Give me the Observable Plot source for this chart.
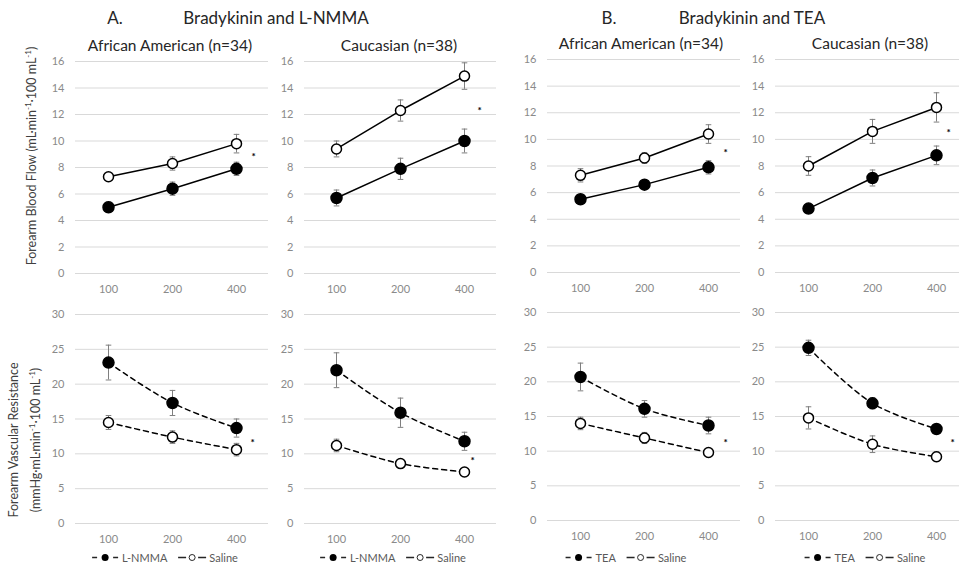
<!DOCTYPE html>
<html>
<head>
<meta charset="utf-8">
<script src="https://cdn.jsdelivr.net/npm/d3@7"></script>
<script src="https://cdn.jsdelivr.net/npm/@observablehq/plot@0.6"></script>
<style>
  html, body { margin: 0; padding: 0; background: #fff; }
  #root { position: relative; width: 959px; height: 568px; overflow: hidden; font-family: Lato, "Open Sans", sans-serif; }
  .t { position: absolute; transform: translate(-50%, -50%); white-space: nowrap; color: #262626; }
  .h { font-size: 17px; }
  .sub { font-size: 15.5px; color: #262626; }
  .ytitle { position: absolute; white-space: nowrap; color: #404040; font-size: 12.5px; transform: translate(-50%, -50%) rotate(-90deg); text-align: center; line-height: 18px; }
  .legend { position: absolute; transform: translate(-50%, -50%); display: flex; align-items: center; gap: 10px; font-size: 11px; color: #595959; white-space: nowrap; }
  .legend span.item { display: flex; align-items: center; gap: 2px; }
  .panel { position: absolute; }
</style>
</head>
<body>
<div id="root"></div>
<script>
// ---------- data ----------
const doses = ["100", "200", "400"];
const flowTicks = [0, 2, 4, 6, 8, 10, 12, 14, 16];
const resTicks = [0, 5, 10, 15, 20, 25, 30];

// Forearm blood flow (top row)
const aaLnmmaFlow = [5.0, 6.4, 7.9];      const aaLnmmaFlowErr = [0.4, 0.5, 0.5];
const aaSalineFlowA = [7.3, 8.3, 9.8];    const aaSalineFlowAErr = [0.2, 0.5, 0.7];
const caLnmmaFlow = [5.7, 7.9, 10.0];     const caLnmmaFlowErr = [0.6, 0.8, 0.9];
const caSalineFlowA = [9.4, 12.3, 14.9];  const caSalineFlowAErr = [0.6, 0.8, 1.0];
const aaTeaFlow = [5.5, 6.6, 7.9];        const aaTeaFlowErr = [0.2, 0.2, 0.5];
const aaSalineFlowB = [7.3, 8.6, 10.4];   const aaSalineFlowBErr = [0.5, 0.4, 0.7];
const caTeaFlow = [4.8, 7.1, 8.8];        const caTeaFlowErr = [0.2, 0.6, 0.7];
const caSalineFlowB = [8.0, 10.6, 12.4];  const caSalineFlowBErr = [0.7, 0.9, 1.1];

// Forearm vascular resistance (bottom row)
const aaLnmmaRes = [23.1, 17.3, 13.7];    const aaLnmmaResErr = [2.5, 1.8, 1.3];
const aaSalineResA = [14.5, 12.4, 10.6];  const aaSalineResAErr = [1.0, 0.9, 0.9];
const caLnmmaRes = [22.0, 15.9, 11.8];    const caLnmmaResErr = [2.5, 2.1, 1.3];
const caSalineResA = [11.2, 8.6, 7.4];    const caSalineResAErr = [0.9, 0.4, 0.4];
const aaTeaRes = [20.7, 16.1, 13.7];      const aaTeaResErr = [2.0, 1.2, 1.2];
const aaSalineResB = [14.0, 11.9, 9.8];   const aaSalineResBErr = [0.9, 0.8, 0.6];
const caTeaRes = [24.9, 16.9, 13.2];      const caTeaResErr = [1.1, 0.8, 0.6];
const caSalineResB = [14.8, 11.0, 9.2];   const caSalineResBErr = [1.6, 1.2, 0.7];

// significance marker positions (y value beside the 400 dose)
const starFlow = [9.0, 12.5, 9.25, 10.7];
const starRes = [12.0, 9.5, 11.7, 11.7];

// ---------- layout ----------
const root = document.getElementById("root");
const capSymbol = { draw(ctx, size) { const r = Math.sqrt(size / Math.PI); ctx.moveTo(-r, 0); ctx.lineTo(r, 0); } };

function addText(cls, html, x, y, extra) {
  const d = document.createElement("div");
  d.className = cls; d.innerHTML = html;
  d.style.left = x + "px"; d.style.top = y + "px";
  if (extra) Object.assign(d.style, extra);
  root.appendChild(d);
}

function makePanel(cfg) {
  const data = [];
  doses.forEach((d, i) => {
    data.push({dose: d, s: "drug", v: cfg.drug[i], e: cfg.drugErr[i]});
    data.push({dose: d, s: "saline", v: cfg.sal[i], e: cfg.salErr[i]});
  });
  const drug = data.filter(d => d.s === "drug");
  const sal = data.filter(d => d.s === "saline");
  const mL = 40, mB = 30, top = cfg.top;
  const width = cfg.gx1 - cfg.gx0 + mL;
  const height = cfg.y0px - top + mB;
  const lineOpts = {x: "dose", y: "v", stroke: "black", strokeWidth: 1.5, curve: cfg.curve, strokeDasharray: cfg.dash};
  const svg = Plot.plot({
    width, height,
    marginLeft: mL, marginRight: 0, marginTop: cfg.y1px - top, marginBottom: mB,
    x: {type: "point", domain: doses, padding: 0.5},
    y: {domain: cfg.domain},
    style: {fontFamily: "Lato, 'Open Sans', sans-serif", fontSize: "11px", color: "#8a8a8a", background: "transparent", overflow: "visible"},
    marks: [
      Plot.ruleY(cfg.ticks, {stroke: "#d9d9d9", strokeWidth: 1}),
      Plot.axisY({ticks: cfg.ticks, tickSize: 0, tickPadding: 11, label: null}),
      Plot.axisX({tickSize: 0, tickPadding: 12, label: null}),
      Plot.ruleX(data, {x: "dose", y1: d => d.v - d.e, y2: d => d.v + d.e, stroke: "#7f7f7f", strokeWidth: 1}),
      Plot.dot(data, {x: "dose", y: d => d.v - d.e, symbol: capSymbol, r: 2.8, stroke: "#7f7f7f", fill: "none", strokeWidth: 1}),
      Plot.dot(data, {x: "dose", y: d => d.v + d.e, symbol: capSymbol, r: 2.8, stroke: "#7f7f7f", fill: "none", strokeWidth: 1}),
      Plot.line(drug, lineOpts),
      Plot.line(sal, lineOpts),
      Plot.dot(drug, {x: "dose", y: "v", r: 5.5, fill: "black", stroke: "black"}),
      Plot.dot(sal, {x: "dose", y: "v", r: 5, fill: "white", stroke: "black", strokeWidth: 1.5}),
      Plot.text([cfg.star], {x: () => "400", y: d => d, text: () => "*", dx: cfg.starDx, dy: 3, fill: "black", fontSize: 10, fontWeight: "bold"})
    ]
  });
  svg.classList.add("panel");
  svg.style.left = (cfg.gx0 - mL) + "px";
  svg.style.top = top + "px";
  root.appendChild(svg);
}

const topRow = {domain: [0, 16], ticks: flowTicks, curve: "linear", dash: null, top: 40};
const botRow = {domain: [0, 30], ticks: resTicks, curve: "catmull-rom", dash: "5,4", top: 295};

const panels = [
  {...topRow, gx0: 75, gx1: 268, y1px: 61, y0px: 273, drug: aaLnmmaFlow, drugErr: aaLnmmaFlowErr, sal: aaSalineFlowA, salErr: aaSalineFlowAErr, star: starFlow[0], starDx: 17},
  {...topRow, gx0: 304, gx1: 496, y1px: 61, y0px: 273, drug: caLnmmaFlow, drugErr: caLnmmaFlowErr, sal: caSalineFlowA, salErr: caSalineFlowAErr, star: starFlow[1], starDx: 15},
  {...topRow, gx0: 547, gx1: 740, y1px: 59, y0px: 272, drug: aaTeaFlow, drugErr: aaTeaFlowErr, sal: aaSalineFlowB, salErr: aaSalineFlowBErr, star: starFlow[2], starDx: 17},
  {...topRow, gx0: 775, gx1: 968, y1px: 59, y0px: 272, drug: caTeaFlow, drugErr: caTeaFlowErr, sal: caSalineFlowB, salErr: caSalineFlowBErr, star: starFlow[3], starDx: 12},
  {...botRow, gx0: 75, gx1: 268, y1px: 314, y0px: 523, drug: aaLnmmaRes, drugErr: aaLnmmaResErr, sal: aaSalineResA, salErr: aaSalineResAErr, star: starRes[0], starDx: 16},
  {...botRow, gx0: 304, gx1: 496, y1px: 314, y0px: 523, drug: caLnmmaRes, drugErr: caLnmmaResErr, sal: caSalineResA, salErr: caSalineResAErr, star: starRes[1], starDx: 8},
  {...botRow, gx0: 547, gx1: 740, y1px: 312, y0px: 520, drug: aaTeaRes, drugErr: aaTeaResErr, sal: aaSalineResB, salErr: aaSalineResBErr, star: starRes[2], starDx: 17},
  {...botRow, gx0: 775, gx1: 968, y1px: 312, y0px: 520, drug: caTeaRes, drugErr: caTeaResErr, sal: caSalineResB, salErr: caSalineResBErr, star: starRes[3], starDx: 16}
];
panels.forEach(makePanel);

// ---------- titles ----------
addText("t h", "A.", 115, 17);
addText("t h", "Bradykinin and L-NMMA", 276, 17);
addText("t h", "B.", 609, 17);
addText("t h", "Bradykinin and TEA", 752, 17);
addText("t sub", "African American (n=34)", 170, 45);
addText("t sub", "Caucasian (n=38)", 399, 45);
addText("t sub", "African American (n=34)", 641, 43);
addText("t sub", "Caucasian (n=38)", 870, 43);

addText("ytitle", "Forearm Blood Flow (mL·min<sup style='font-size:8px'>-1</sup>·100 mL<sup style='font-size:8px'>-1</sup>)", 30, 156);
addText("ytitle", "Forearm Vascular Resistance<br>(mmHg·mL·min<sup style='font-size:8px'>-1</sup>·100 mL<sup style='font-size:8px'>-1</sup>)", 25, 440);

// ---------- legends ----------
const drugIcon = `<svg width="30" height="10"><line x1="2" y1="5" x2="7" y2="5" stroke="#262626" stroke-width="1.5"/><line x1="23" y1="5" x2="28" y2="5" stroke="#262626" stroke-width="1.5"/><circle cx="15" cy="5" r="3.5" fill="black"/></svg>`;
const salIcon = `<svg width="30" height="10"><line x1="1" y1="5" x2="9" y2="5" stroke="#262626" stroke-width="1.5"/><line x1="21" y1="5" x2="29" y2="5" stroke="#262626" stroke-width="1.5"/><circle cx="15" cy="5" r="3" fill="white" stroke="#262626" stroke-width="1"/></svg>`;
function legend(x, name) {
  addText("legend", `<span class="item">${drugIcon}${name}</span><span class="item">${salIcon}Saline</span>`, x, 557);
}
legend(164, "L-NMMA");
legend(392, "L-NMMA");
legend(625, "TEA");
legend(864, "TEA");
</script>
</body>
</html>
